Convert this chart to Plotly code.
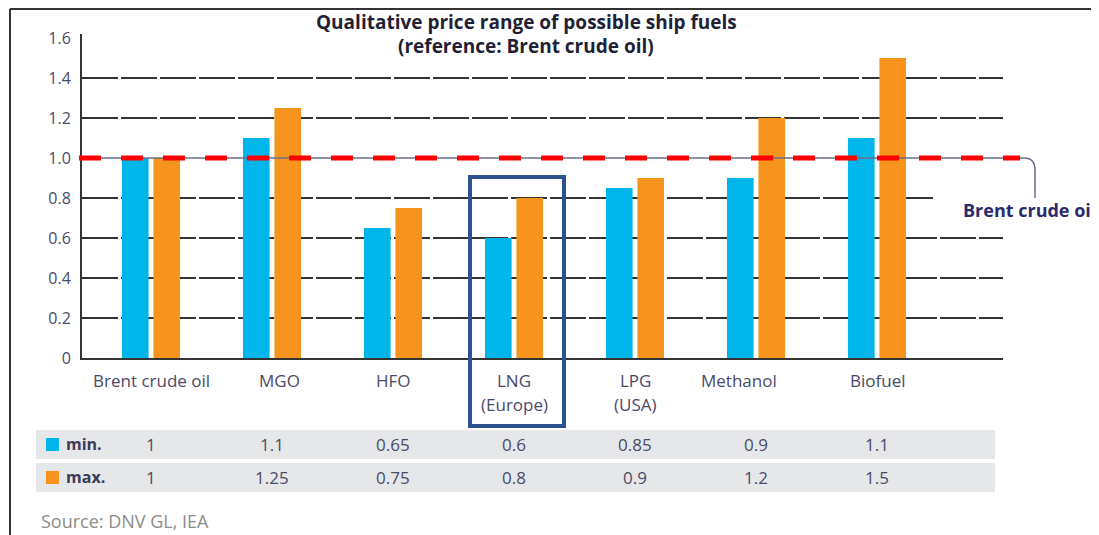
import plotly.graph_objects as go

# ---- data ----
categories = ["Brent crude oil", "MGO", "HFO", "LNG<br>(Europe)", "LPG<br>(USA)", "Methanol", "Biofuel"]
min_values = [1.0, 1.1, 0.65, 0.6, 0.85, 0.9, 1.1]
max_values = [1.0, 1.25, 0.75, 0.8, 0.9, 1.2, 1.5]
y_ticks = [0, 0.2, 0.4, 0.6, 0.8, 1.0, 1.2, 1.4, 1.6]
y_tick_labels = ["0", "0.2", "0.4", "0.6", "0.8", "1.0", "1.2", "1.4", "1.6"]
reference_value = 1.0
reference_label = "Brent crude oil"
title_lines = ["Qualitative price range of possible ship fuels", "(reference: Brent crude oil)"]
source_text = "Source: DNV GL, IEA"

# ---- styling ----
PAGE_OFF = 8                      # browser body margin
FIG_W, FIG_H = 1099 - PAGE_OFF, 535 - PAGE_OFF
# plot area in page pixels
L, R, T, B = 82, 1003, 34, 358
PW, PH = R - L, B - T
Y_TOP = 1.62
BLUE = "#00b5ea"
ORANGE = "#f7941d"
TXT = "#4a4a68"
FONT = "Open Sans"
label_xshift = [0, 7, 0, 0, 0, -17, 0]


def px(x):
    return (x - L) / PW


def py(y):
    return (B - y) / PH


xs = list(range(len(categories)))

fig = go.Figure()
fig.add_trace(go.Bar(x=xs, y=min_values, name="min.", marker_color=BLUE,
                     offset=-0.24, width=0.22, marker_line_width=0))
fig.add_trace(go.Bar(x=xs, y=max_values, name="max.", marker_color=ORANGE,
                     offset=0.02, width=0.22, marker_line_width=0))

shapes = []
# dashed gridlines (below bars)
for v in y_ticks:
    if v in (0, reference_value, max(y_ticks)):
        continue
    x1 = px(933) if abs(v - 0.8) < 1e-9 else 1.0
    shapes.append(dict(type="line", xref="paper", yref="y", x0=0, x1=x1, y0=v, y1=v,
                       line=dict(color="#333333", width=2, dash="36px,3px"), layer="below"))

# reference callout line (thin grey with a bend down to label)
ref_y_px = B - reference_value * PH / Y_TOP
path = (f"M {px(L)} {py(ref_y_px)} L {px(1024)} {py(ref_y_px)} "
        f"Q {px(1035)} {py(ref_y_px)} {px(1035)} {py(ref_y_px + 12)} L {px(1035)} {py(198)}")
shapes.append(dict(type="path", xref="paper", yref="paper", path=path,
                   line=dict(color="#6d6d8d", width=1.5), layer="above"))
# red dashed reference line
shapes.append(dict(type="line", xref="paper", yref="y", x0=px(79), x1=px(1020),
                   y0=reference_value, y1=reference_value,
                   line=dict(color="#ff0000", width=5, dash="22px,20px"), layer="above"))

# highlight box around LNG
shapes.append(dict(type="rect", xref="paper", yref="paper",
                   x0=px(470), x1=px(564), y0=py(426), y1=py(177),
                   line=dict(color="#2e528f", width=4), fillcolor="rgba(0,0,0,0)", layer="above"))

# table rows background
for (y0, y1) in [(430, 459), (463, 492)]:
    shapes.append(dict(type="rect", xref="paper", yref="paper",
                       x0=px(36), x1=px(995), y0=py(y1), y1=py(y0),
                       line=dict(width=0), fillcolor="#e6e7e8", layer="below"))
# legend squares
for (y0, c) in [(438, BLUE), (471, ORANGE)]:
    shapes.append(dict(type="rect", xref="paper", yref="paper",
                       x0=px(46), x1=px(59), y0=py(y0 + 13), y1=py(y0),
                       line=dict(width=0), fillcolor=c, layer="above"))
# frame
shapes.append(dict(type="line", xref="paper", yref="paper", x0=px(10), x1=px(1099),
                   y0=py(9), y1=py(9), line=dict(color="#333333", width=2)))
shapes.append(dict(type="line", xref="paper", yref="paper", x0=px(10), x1=px(10),
                   y0=py(9), y1=py(535), line=dict(color="#333333", width=2)))

ann = []
# title
for i, t in enumerate(title_lines):
    ann.append(dict(text=f"<b>{t}</b>", xref="paper", yref="paper", x=px(526), y=py(22 + 24 * i),
                    xanchor="center", yanchor="middle", showarrow=False,
                    font=dict(family=FONT, size=19, color="#1f1f35")))
# category labels
for i, c in enumerate(categories):
    for j, line in enumerate(c.split("<br>")):
        ann.append(dict(text=line, xref="x", yref="paper", x=xs[i], y=py(380 + 24 * j),
                        xanchor="center", yanchor="middle", showarrow=False, xshift=label_xshift[i],
                        font=dict(family=FONT, size=17, color=TXT)))
# table values
for row, (vals, name) in enumerate([(min_values, "min."), (max_values, "max.")]):
    yc = py(444 + 33 * row)
    ann.append(dict(text=f"<b>{name}</b>", xref="paper", yref="paper", x=px(64), y=yc,
                    xanchor="left", yanchor="middle", showarrow=False,
                    font=dict(family=FONT, size=16, color="#3a3a5a")))
    for i, v in enumerate(vals):
        ann.append(dict(text=f"{v:g}", xref="x", yref="paper", x=xs[i], y=yc,
                        xanchor="center", yanchor="middle", showarrow=False,
                        font=dict(family=FONT, size=17, color=TXT)))
# reference label
ann.append(dict(text=f"<b>{reference_label}</b>", xref="paper", yref="paper", x=px(961), y=py(210),
                xanchor="left", yanchor="middle", showarrow=False,
                font=dict(family=FONT, size=18, color="#2b2b6b")))
# source
ann.append(dict(text=source_text, xref="paper", yref="paper", x=px(39), y=py(521),
                xanchor="left", yanchor="middle", showarrow=False,
                font=dict(family=FONT, size=18, color="#8c8c8c")))

fig.update_layout(
    width=FIG_W, height=FIG_H,
    margin=dict(l=L - PAGE_OFF, r=1099 - R, t=T - PAGE_OFF, b=535 - B, pad=0),
    paper_bgcolor="white", plot_bgcolor="white",
    showlegend=False, barmode="overlay",
    shapes=shapes, annotations=ann,
    font=dict(family=FONT, size=14, color=TXT),
)
fig.update_xaxes(range=[(L - 151) / 121, (R - 151) / 121], showline=True, linecolor="#333333",
                 linewidth=2, showticklabels=False, showgrid=False, zeroline=False, ticks="")
fig.update_yaxes(range=[0, Y_TOP], tickvals=y_ticks, ticktext=y_tick_labels, showline=True,
                 linecolor="#333333", linewidth=2, showgrid=False, zeroline=False, ticks="",
                 ticklabelstandoff=6, tickfont=dict(family=FONT, size=16, color=TXT))

fig.write_html("out.html")
